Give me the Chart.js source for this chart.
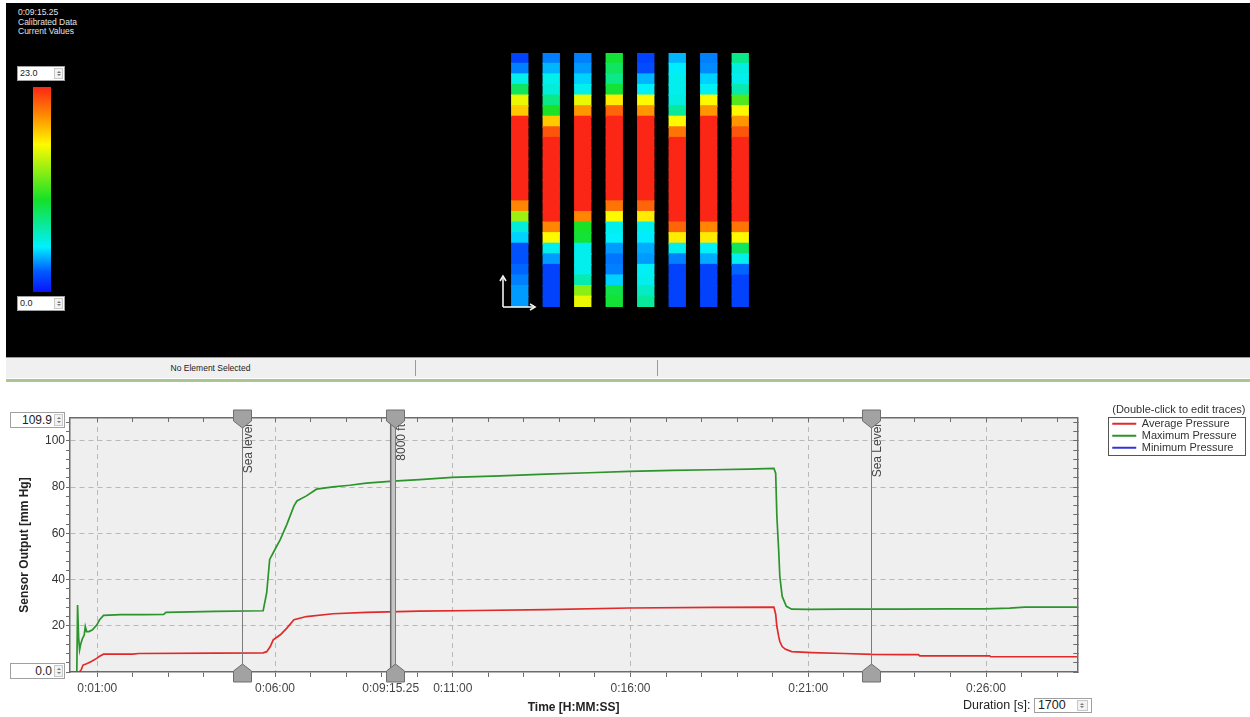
<!DOCTYPE html>
<html>
<head>
<meta charset="utf-8">
<script src="https://cdn.jsdelivr.net/npm/chart.js@4.4.1/dist/chart.umd.min.js"></script>
<style>
  html, body { margin: 0; padding: 0; width: 1250px; height: 717px; overflow: hidden; background: #fff;
    font-family: "Liberation Sans", Arial, sans-serif; }
  .abs { position: absolute; }
  #viewer { left: 6px; top: 3px; width: 1244px; height: 354px; background: #000; }
  #info { left: 18px; top: 8px; color: #e4e4e4; font-size: 8.5px; line-height: 9.5px; }
  #colorbar { left: 33px; top: 87px; width: 18px; height: 205px; }
  .spin { background: #fff; border: 1px solid #a0a0a0; box-sizing: border-box; color: #222; }
  .spin .arr { position: absolute; top: 1px; bottom: 1px; right: 1px; width: 9px; background: #f2f2f2;
    border: 1px solid #c8c8c8; box-sizing: border-box; }
  .spin .arr::before, .spin .arr::after { content: ""; position: absolute; left: 2px; border-left: 2px solid transparent;
    border-right: 2px solid transparent; }
  .spin .arr::before { top: 2px; border-bottom: 2px solid #777; }
  .spin .arr::after { bottom: 2px; border-top: 2px solid #777; }
  #status { left: 6px; top: 357px; width: 1244px; height: 21px; background: #f0f0f0; border-top: 1px solid #9a9a9a;
    box-sizing: border-box; }
  .divider { top: 360px; width: 1px; height: 16px; background: #9a9a9a; }
  #statusText { left: 6px; top: 358px; width: 409px; text-align: center; font-size: 8.5px; line-height: 20px; color: #222; }
  #greenRule { left: 6px; top: 379px; width: 1244px; height: 3px; background: #a9c592; }
  #heatCanvas { left: 504px; top: 53px; }
  #traceCanvas { left: 0; top: 385px; }
  #duration { left: 963px; top: 698px; font-size: 12.5px; color: #222; }
</style>
</head>
<body>
<div id="viewer" class="abs"></div>
<div id="info" class="abs">0:09:15.25<br>Calibrated Data<br>Current Values</div>
<div class="abs spin" style="left:17px;top:66px;width:48px;height:15px;font-size:9px;line-height:13px;padding-left:2px;">23.0<div class="arr"></div></div>
<div id="colorbar" class="abs"></div>
<div class="abs spin" style="left:17px;top:296px;width:48px;height:15px;font-size:9px;line-height:13px;padding-left:2px;">0.0<div class="arr"></div></div>
<canvas id="heatCanvas" class="abs" width="252" height="254"></canvas>
<svg class="abs" style="left:495px;top:266px" width="50" height="46">
  <g stroke="#f2f2f2" stroke-width="1.6" fill="none">
    <line x1="8" y1="41" x2="8" y2="11"/><polyline points="5,15 8,10 11,15"/>
    <line x1="8" y1="41" x2="40" y2="41"/><polyline points="35,38 40,41 35,44"/>
  </g>
</svg>
<div id="status" class="abs"></div>
<div class="abs divider" style="left:415px"></div>
<div class="abs divider" style="left:657px"></div>
<div id="statusText" class="abs">No Element Selected</div>
<div id="greenRule" class="abs"></div>

<canvas id="traceCanvas" class="abs" width="1250" height="332"></canvas>
<div class="abs spin" style="left:10px;top:412px;width:55px;height:16px;font-size:12px;line-height:14px;text-align:right;padding-right:12px;">109.9<div class="arr"></div></div>
<div class="abs spin" style="left:10px;top:663px;width:55px;height:16px;font-size:12px;line-height:14px;text-align:right;padding-right:12px;">0.0<div class="arr"></div></div>
<div id="duration" class="abs">Duration [s]: <span class="spin" style="display:inline-block;position:relative;width:58px;height:15px;font-size:12.5px;line-height:13px;vertical-align:middle;padding-left:3px;">1700<span class="arr" style="width:11px;right:3px;"></span></span></div>

<script>
// heatmap strips, rows read top to bottom (scale 0.0 .. 23.0)
const strip1 = [1.5, 3, 5.5, 9, 16, 18, 23, 23, 23, 23, 23, 23, 23, 23, 20, 14, 6, 4.5, 2, 2, 2.5, 3, 3.5, 3.5];
const strip2 = [3, 4, 5.5, 6, 8, 10.5, 18, 21.5, 23, 23, 23, 23, 23, 23, 23, 23, 20, 16.5, 5.5, 3.5, 1.5, 1.5, 1.5, 1.5];
const strip3 = [3, 3.5, 4.5, 5.5, 16, 19.5, 23, 23, 23, 23, 23, 23, 23, 23, 23, 20, 10.5, 10, 5.5, 5.5, 5.5, 7, 13.5, 16];
const strip4 = [10, 9, 8, 10, 17, 21, 23, 23, 23, 23, 23, 23, 23, 23, 20.5, 16.5, 5.5, 5.2, 3.5, 2.8, 3, 4.5, 9.5, 10];
const strip5 = [1.5, 1.8, 4, 5.2, 16.5, 19.5, 23, 23, 23, 23, 23, 23, 23, 23, 21, 17, 5.5, 5, 3.8, 3.5, 5.3, 5.5, 6.5, 7.5];
const strip6 = [4, 5, 5.5, 5.5, 5.8, 7.5, 16.5, 20.5, 23, 23, 23, 23, 23, 23, 23, 23, 21, 17, 5.5, 3, 1.5, 1.5, 1.5, 1.5];
const strip7 = [3, 3.2, 4.5, 5.3, 16.5, 19.5, 23, 23, 23, 23, 23, 23, 23, 23, 23, 23, 20, 17, 5.2, 3.8, 1.5, 1.5, 1.5, 1.5];
const strip8 = [8, 5.8, 5.5, 7, 12, 16.5, 19.5, 21.5, 23, 23, 23, 23, 23, 23, 23, 23, 20.5, 16.5, 9, 5.5, 2.5, 1.5, 1.5, 1.5];
const stripNames = ["1", "2", "3", "4", "5", "6", "7", "8"];
const scaleMax = 23.0;

// traces: time in seconds, pressure in mm Hg
const avgTime = [14, 30, 33, 36, 42, 50, 59, 64, 70.6, 120, 130, 260, 340, 346, 352, 357, 369, 380, 392, 413, 458,
  514, 604, 700, 817, 958, 1100, 1202, 1205, 1207, 1210, 1212, 1216, 1221, 1232, 1266, 1320, 1368, 1420, 1446, 1448,
  1566, 1568, 1714];
const avgValue = [0, 0, 1, 3, 3.6, 4.5, 5.9, 6.8, 7.7, 7.7, 8.0, 8.2, 8.3, 8.8, 11, 13.9, 16.1, 19, 22.6, 24, 25.2,
  25.8, 26.3, 26.6, 27, 27.7, 28, 28.1, 25, 19.7, 15.5, 13.2, 11, 9.9, 8.8, 8.4, 8, 7.6, 7.5, 7.5, 7.0,
  7.0, 6.6, 6.6];
const maxTime = [14, 25.5, 26.8, 28.5, 30.2, 32, 35, 38, 39.8, 42, 46, 52, 59.4, 64, 70.6, 100, 140, 172, 176, 260,
  340, 346, 351, 357, 369, 380, 392, 397, 413, 430, 458, 486, 514, 559, 604, 659, 740, 817, 890, 958, 1030, 1098, 1160,
  1202, 1205, 1207, 1210, 1212, 1216, 1223, 1232, 1260, 1320, 1412, 1500, 1559, 1600, 1625, 1714];
const maxValue = [0, 0, 29, 15, 9.6, 12, 14.5, 16, 19.7, 17.5, 17.5, 18.3, 20.4, 22.6, 24.5, 24.8, 24.8, 24.9, 25.8, 26.2,
  26.5, 34.3, 48.7, 51.6, 57.4, 63.9, 71.9, 74, 76.2, 79.1, 80.1, 80.8, 81.7, 82.6, 83.2, 84.2, 84.9, 85.6, 86.2, 86.8, 87.2, 87.5, 87.8,
  88.1, 86, 67.5, 53, 41.4, 32.7, 28.4, 27.2, 27.1, 27.2, 27.2, 27.3, 27.3, 27.6, 28.1, 28.1];
const minTime = [];
const minValue = [];

const xMin = 14, xMax = 1714;
const cursorTime = 555.25;
const markerTimes = [304, 563, 1366];
const markerNames = ["Sea level", "8000 ft", "Sea Level"];

Chart.defaults.font.family = '"Liberation Sans", Arial, sans-serif';

// rainbow scale like the colour bar
const colorStops = [
  [0, [10, 20, 250]], [0.1, [0, 90, 255]], [0.22, [0, 240, 255]], [0.45, [20, 225, 40]],
  [0.72, [255, 250, 0]], [0.86, [255, 140, 0]], [1, [252, 38, 22]]
];
function rainbow(t) {
  t = Math.max(0, Math.min(1, t));
  for (let i = 1; i < colorStops.length; i++) {
    const [t1, c1] = colorStops[i];
    const [t0, c0] = colorStops[i - 1];
    if (t <= t1) {
      const f = (t - t0) / (t1 - t0);
      const c = c0.map((v, k) => Math.round(v + (c1[k] - v) * f));
      return "rgb(" + c.join(",") + ")";
    }
  }
  return "rgb(252,38,22)";
}
document.getElementById("colorbar").style.background = "linear-gradient(to top, " +
  colorStops.map(s => "rgb(" + s[1].join(",") + ") " + (s[0] * 100) + "%").join(", ") + ")";

// heatmap as stacked bars, one dataset per row (bottom row first)
const strips = [strip1, strip2, strip3, strip4, strip5, strip6, strip7, strip8];
const rowCount = strip1.length;
const heatSets = [];
for (let r = 0; r < rowCount; r++) {
  const row = rowCount - 1 - r;
  heatSets.push({
    data: strips.map(() => 1),
    backgroundColor: strips.map(s => rainbow(s[row] / scaleMax)),
    borderWidth: 0,
    inflateAmount: 0.8,
    barPercentage: 1,
    categoryPercentage: 0.5
  });
}
new Chart(document.getElementById("heatCanvas"), {
  type: "bar",
  data: { labels: stripNames, datasets: heatSets },
  options: {
    responsive: false,
    animation: false,
    layout: { padding: 0 },
    plugins: { legend: { display: false }, tooltip: { enabled: false } },
    scales: {
      x: { stacked: true, display: false },
      y: { stacked: true, display: false, min: 0, max: rowCount }
    }
  }
});

function fmtTime(t) {
  const h = Math.floor(t / 3600);
  const m = Math.floor((t % 3600) / 60);
  const s = t % 60;
  return h + ":" + String(m).padStart(2, "0") + ":" + String(Math.floor(s)).padStart(2, "0");
}
function toPoints(ts, vs) {
  return ts.map((t, i) => ({ x: t, y: vs[i] }));
}
const isMajorX = v => v !== cursorTime && (v - 60) % 300 === 0;
const isMajorY = v => v > 0 && v % 20 === 0;
const axisColor = "#6c6c6c";

const plotBackground = {
  id: "plotBackground",
  beforeDraw(chart) {
    const { ctx, chartArea: a } = chart;
    ctx.save();
    ctx.fillStyle = "#efefef";
    ctx.fillRect(a.left, a.top, a.right - a.left, a.bottom - a.top);
    ctx.restore();
  }
};

const markers = {
  id: "markers",
  afterDraw(chart) {
    const { ctx, chartArea: a, scales } = chart;
    const sx = scales.x;
    ctx.save();
    // cursor band
    const cx = sx.getPixelForValue(cursorTime);
    const mx = sx.getPixelForValue(markerTimes[1]);
    ctx.fillStyle = "#c4c4c4";
    ctx.fillRect(cx, a.top, mx - cx, a.bottom - a.top);
    ctx.strokeStyle = "#6a6a6a";
    ctx.lineWidth = 1.5;
    ctx.beginPath();
    ctx.moveTo(cx, a.top); ctx.lineTo(cx, a.bottom);
    ctx.stroke();
    markerTimes.forEach((t, i) => {
      const x = Math.round(sx.getPixelForValue(t)) + 0.5;
      ctx.strokeStyle = "#7c7c7c";
      ctx.lineWidth = 1;
      ctx.beginPath();
      ctx.moveTo(x, a.top); ctx.lineTo(x, a.bottom);
      ctx.stroke();
      // label
      ctx.save();
      ctx.translate(x + 6, a.top + 6);
      ctx.rotate(-Math.PI / 2);
      ctx.fillStyle = "#444";
      ctx.font = '12px "Liberation Sans", Arial, sans-serif';
      ctx.textAlign = "right";
      ctx.textBaseline = "middle";
      ctx.fillText(markerNames[i], 0, 0);
      ctx.restore();
      // handles
      ctx.fillStyle = "#a2a2a2";
      ctx.strokeStyle = "#6e6e6e";
      ctx.beginPath();
      ctx.moveTo(x - 9, a.top - 8); ctx.lineTo(x + 9, a.top - 8); ctx.lineTo(x + 9, a.top + 3);
      ctx.lineTo(x, a.top + 10); ctx.lineTo(x - 9, a.top + 3); ctx.closePath();
      ctx.fill(); ctx.stroke();
      ctx.beginPath();
      ctx.moveTo(x - 9, a.bottom + 10); ctx.lineTo(x + 9, a.bottom + 10); ctx.lineTo(x + 9, a.bottom - 1);
      ctx.lineTo(x, a.bottom - 8); ctx.lineTo(x - 9, a.bottom - 1); ctx.closePath();
      ctx.fill(); ctx.stroke();
    });
    ctx.restore();
  }
};

const legendFrame = {
  id: "legendFrame",
  afterDraw(chart) {
    const boxes = chart.legend.legendHitBoxes;
    if (!boxes || !boxes.length) return;
    const { ctx } = chart;
    const left = Math.min(...boxes.map(b => b.left)) - 4;
    const top = Math.min(...boxes.map(b => b.top)) - 1;
    const bottom = Math.max(...boxes.map(b => b.top + b.height)) + 2;
    const right = chart.legend.right - 1;
    ctx.save();
    ctx.strokeStyle = "#555";
    ctx.lineWidth = 1;
    ctx.strokeRect(Math.round(left) + 0.5, Math.round(top) + 0.5, Math.round(right - left), Math.round(bottom - top));
    ctx.restore();
  }
};

function minuteTicks(scale) {
  const ticks = [];
  for (let t = 60; t <= xMax; t += 60) ticks.push({ value: t });
  scale.ticks = ticks;
}

new Chart(document.getElementById("traceCanvas"), {
  type: "line",
  data: {
    datasets: [
      { label: "Average Pressure", data: toPoints(avgTime, avgValue), borderColor: "#e02a2a", backgroundColor: "#e02a2a", borderWidth: 1.7 },
      { label: "Maximum Pressure", data: toPoints(maxTime, maxValue), borderColor: "#2b942b", backgroundColor: "#2b942b", borderWidth: 1.7 },
      { label: "Minimum Pressure", data: toPoints(minTime, minValue), borderColor: "#3434d4", backgroundColor: "#3434d4", borderWidth: 1.7 }
    ]
  },
  options: {
    responsive: false,
    animation: false,
    elements: { point: { radius: 0 }, line: { tension: 0 } },
    layout: { padding: { top: 17, right: 3.5, bottom: 0, left: 0 } },
    plugins: {
      tooltip: { enabled: false },
      legend: {
        position: "right",
        align: "start",
        title: { display: true, text: "(Double-click to edit traces)", color: "#333", font: { size: 11 }, padding: { top: 2, bottom: 0 } },
        labels: {
          boxWidth: 24, boxHeight: 2, padding: 1, color: "#333", font: { size: 11 },
          generateLabels(chart) {
            return Chart.defaults.plugins.legend.labels.generateLabels(chart)
              .map(item => Object.assign(item, { lineWidth: 0, hidden: false }));
          }
        }
      }
    },
    scales: {
      x: {
        type: "linear", position: "bottom", min: xMin, max: xMax,
        afterBuildTicks(scale) {
          minuteTicks(scale);
          scale.ticks.push({ value: cursorTime });
          scale.ticks.sort((p, q) => p.value - q.value);
        },
        afterFit(scale) { scale.height = 45; },
        ticks: {
          autoSkip: false, maxRotation: 0, color: "#444", font: { size: 12 }, padding: 4,
          callback: v => v === cursorTime ? "0:09:15.25" : (isMajorX(v) ? fmtTime(v) : "")
        },
        grid: {
          color: c => (c.tick && isMajorX(c.tick.value)) ? "#b9b9b9" : "rgba(0,0,0,0)",
          tickColor: axisColor, tickLength: 5
        },
        border: { color: axisColor, width: 1.5, dash: [5, 4] },
        title: { display: true, text: "Time [H:MM:SS]", color: "#222", font: { size: 12, weight: "bold" }, padding: { top: 0, bottom: 2 } }
      },
      x2: {
        type: "linear", position: "top", min: xMin, max: xMax,
        afterBuildTicks: minuteTicks,
        afterFit(scale) { scale.height = 16; },
        ticks: { display: false },
        grid: { drawOnChartArea: false, tickColor: axisColor, tickLength: -4 },
        border: { color: axisColor, width: 1.5 }
      },
      y: {
        min: 0, max: 109.9,
        afterBuildTicks(scale) {
          const ticks = [];
          for (let v = 0; v <= 108; v += 4) ticks.push({ value: v });
          scale.ticks = ticks;
        },
        afterFit(scale) { scale.width = 70; },
        ticks: { autoSkip: false, color: "#333", font: { size: 12 }, padding: 1, callback: v => isMajorY(v) ? String(v) : "" },
        grid: {
          color: c => (c.tick && isMajorY(c.tick.value)) ? "#b9b9b9" : "rgba(0,0,0,0)",
          tickColor: axisColor, tickLength: 4
        },
        border: { color: axisColor, width: 1.5, dash: [5, 4] },
        title: { display: true, text: "Sensor Output [mm Hg]", color: "#222", font: { size: 12, weight: "bold" }, padding: { top: 17, bottom: 0 } }
      },
      y2: {
        position: "right", min: 0, max: 109.9,
        afterBuildTicks(scale) {
          const ticks = [];
          for (let v = 0; v <= 108; v += 4) ticks.push({ value: v });
          scale.ticks = ticks;
        },
        afterFit(scale) { scale.width = 34; },
        ticks: { display: false },
        grid: { drawOnChartArea: false, tickColor: axisColor, tickLength: -4 },
        border: { color: axisColor, width: 1.5 }
      }
    }
  },
  plugins: [plotBackground, markers, legendFrame]
});
</script>
</body>
</html>
